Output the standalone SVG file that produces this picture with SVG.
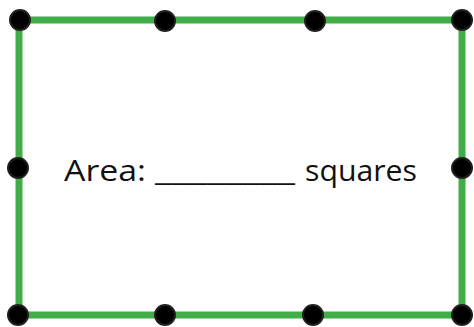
<svg xmlns="http://www.w3.org/2000/svg" width="474" height="327" viewBox="0 0 474 327">
<style>
.edge{fill:none;stroke:#41ad49;stroke-width:7;stroke-linecap:square}
.dot{fill:#000;stroke:#231f20;stroke-width:2}
.lbl{font-family:"Open Sans","DejaVu Sans",sans-serif;font-size:29px;fill:#111}
</style>
<g id="connectors">
<rect class="edge" x="19" y="20" width="443" height="295"/>
</g>
<g id="dots">
<g id="d1"><circle class="dot" cx="20" cy="20" r="10"/></g>
<g id="d2"><circle class="dot" cx="165" cy="21" r="10"/></g>
<g id="d3"><circle class="dot" cx="315" cy="21" r="10"/></g>
<g id="d4"><circle class="dot" cx="462" cy="20" r="10"/></g>
<g id="d5"><circle class="dot" cx="18" cy="168" r="10"/></g>
<g id="d6"><circle class="dot" cx="462" cy="168" r="10"/></g>
<g id="d7"><circle class="dot" cx="18" cy="315" r="10"/></g>
<g id="d8"><circle class="dot" cx="165" cy="315" r="10"/></g>
<g id="d9"><circle class="dot" cx="313" cy="315" r="10"/></g>
<g id="d10"><circle class="dot" cx="462" cy="315" r="10"/></g>
</g>
<g id="label">
<text class="lbl" y="181"><tspan x="64" textLength="82" lengthAdjust="spacingAndGlyphs">Area:</tspan> <tspan x="155" textLength="140" lengthAdjust="spacingAndGlyphs">________</tspan> <tspan x="305" textLength="112" lengthAdjust="spacingAndGlyphs">squares</tspan></text>
</g>
</svg>
